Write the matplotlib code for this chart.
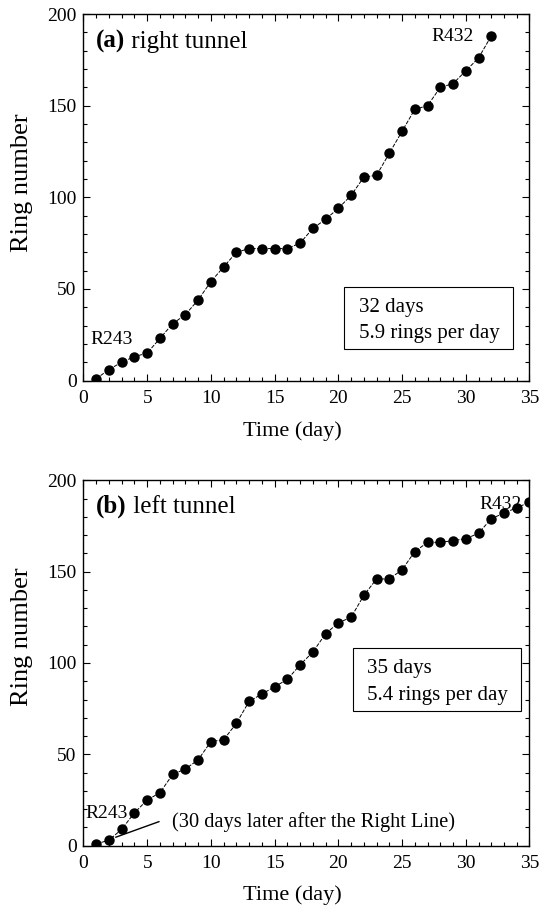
import matplotlib
matplotlib.use("Agg")
import matplotlib.pyplot as plt
from matplotlib.patches import Rectangle
from matplotlib.ticker import MultipleLocator

plt.rcParams['font.family'] = ['Liberation Serif', 'DejaVu Serif']

# ---- data ----
days_right = list(range(1, 33))
rings_right = [1, 6, 10, 13, 15, 23, 31, 36, 44, 54, 62, 70, 72, 72, 72, 72,
               75, 83, 88, 94, 101, 111, 112, 124, 136, 148, 150, 160, 162, 169, 176, 188]
days_left = list(range(1, 36))
rings_left = [1, 3, 9, 18, 25, 29, 39, 42, 47, 57, 58, 67, 79, 83, 87, 91, 99, 106,
              116, 122, 125, 137, 146, 146, 151, 161, 166, 166, 167, 168, 171, 179, 182, 185, 188]

xticks = [0, 5, 10, 15, 20, 25, 30, 35]
yticks = [0, 50, 100, 150, 200]

fig = plt.figure(figsize=(5.5, 9.11), dpi=100)
ax_a = fig.add_axes([0.1518, 0.5823, 0.8109, 0.4023])
ax_b = fig.add_axes([0.1518, 0.0717, 0.8109, 0.4011])

FS_TICK = 14
FS_LAB = 16
FS_TXT = 15


def style(ax, ylab_y, xlab_y):
    ax.set_xlim(0, 35)
    ax.set_ylim(0, 200)
    ax.set_xticks(xticks)
    ax.set_yticks(yticks)
    ax.xaxis.set_minor_locator(MultipleLocator(1))
    ax.yaxis.set_minor_locator(MultipleLocator(10))
    ax.tick_params(which='both', direction='in', top=True, right=True,
                   labelsize=FS_TICK, width=0.8, color='black')
    ax.tick_params(which='major', length=5)
    ax.tick_params(axis='x', which='major', pad=7)
    ax.tick_params(axis='y', which='major', pad=5)
    ax.tick_params(which='minor', length=3)
    for s in ax.spines.values():
        s.set_linewidth(1.0)
    ax.set_xlabel('Time (day)', fontsize=FS_LAB)
    ax.set_ylabel('Ring number', fontsize=19)
    ax.xaxis.set_label_coords(0.469, xlab_y)
    ax.yaxis.set_label_coords(-0.113, ylab_y)


def series(ax, x, y):
    ax.plot(x, y, color='black', lw=0.7, ls=(0, (4, 1.5)), marker='o',
            markersize=6.5, markerfacecolor='black', markeredgecolor='black')


def title(ax, tag, rest, yb):
    t = ax.text(0.98, yb, tag, fontsize=18, fontweight='bold', va='baseline', ha='left')
    ax.annotate(rest, xy=(1, 0), xycoords=t, fontsize=18, va='bottom', ha='left')


def infobox(ax, x0, x1, y0, y1, tx, ty1, ty2, l1, l2):
    ax.add_patch(Rectangle((x0, y0), x1 - x0, y1 - y0, transform=ax.transAxes,
                           fill=False, edgecolor='black', lw=0.8))
    ax.text(tx, ty1, l1, transform=ax.transAxes, fontsize=FS_TXT, va='baseline')
    ax.text(tx, ty2, l2, transform=ax.transAxes, fontsize=FS_TXT, va='baseline')


# ---- panel (a) ----
style(ax_a, 0.539, -0.112)
series(ax_a, days_right, rings_right)
title(ax_a, '(a)', ' right tunnel', 181.8)
ax_a.text(0.51, 19.8, 'R243', fontsize=FS_TICK, va='baseline')
ax_a.text(27.3, 185.3, 'R432', fontsize=FS_TICK, va='baseline')
infobox(ax_a, 0.584, 0.962, 0.086, 0.256, 0.618, 0.186, 0.115,
        '32 days', '5.9 rings per day')

# ---- panel (b) ----
style(ax_b, 0.571, -0.108)
series(ax_b, days_left, rings_left)
title(ax_b, '(b)', ' left tunnel', 182.3)
ax_b.text(0.12, 15.2, 'R243', fontsize=FS_TICK, va='baseline')
ax_b.text(31.1, 184.1, 'R432', fontsize=FS_TICK, va='baseline')
ax_b.text(6.92, 10.4, '(30 days later after the Right Line)', fontsize=14.7, va='baseline')
ax_b.annotate('', xy=(2.32, 4.1), xytext=(6.14, 13.7),
              arrowprops=dict(arrowstyle='-', color='black', lw=1.0))
infobox(ax_b, 0.605, 0.981, 0.369, 0.540, 0.635, 0.472, 0.399,
        '35 days', '5.4 rings per day')

fig.savefig('out.png', dpi=100)
